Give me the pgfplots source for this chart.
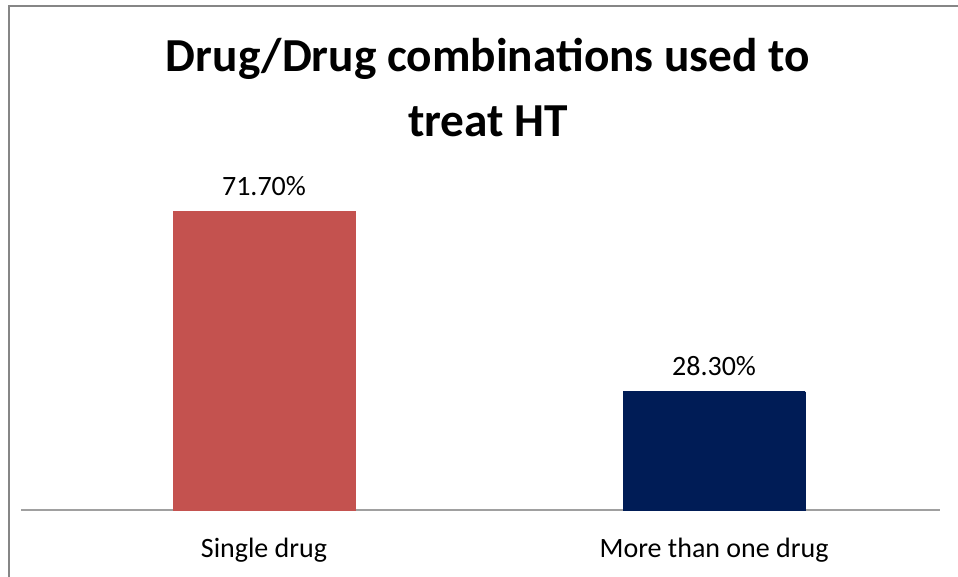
\documentclass[border=0pt]{standalone}
\usepackage{pgfplots}
\pgfplotsset{compat=1.18}
\usepackage{fontspec}
\setmainfont{Carlito}

\definecolor{framegray}{RGB}{134,134,134}
\definecolor{axisgray}{RGB}{160,160,160}
\definecolor{barred}{RGB}{212,96,93}
\definecolor{barredd}{RGB}{196,82,79}
\definecolor{barblue}{RGB}{5,38,104}
\definecolor{barblued}{RGB}{0,28,86}

\begin{document}
\begin{tikzpicture}
% page is 958 x 577 px at 0.75pt per px
\useasboundingbox (0,0) rectangle (718.5pt,432.75pt);
\draw[framegray,line width=1.5pt] (6.4pt,0) -- (6.4pt,428.6pt) -- (718.5pt,428.6pt);

\node[anchor=base,font=\bfseries\fontsize{35.5}{42}\selectfont,inner sep=0pt] at (366pt,378.75pt)
  {Drug/Drug combinations used to};
\node[anchor=base,font=\bfseries\fontsize{35.5}{42}\selectfont,inner sep=0pt] at (366pt,330pt)
  {treat HT};

\begin{axis}[
    at={(15.75pt,50.25pt)}, anchor=south west,
    scale only axis,
    width=689.25pt, height=250.2pt,
    ybar, bar width=136.5pt, bar shift=0pt,
    xmin=-0.54, xmax=1.502,
    ymin=0, ymax=80,
    hide y axis,
    axis x line*=bottom,
    x axis line style={axisgray,line width=1.5pt,-},
    xtick={0,1},
    xticklabels={Single drug,More than one drug},
    major tick length=0pt,
    xticklabel style={font=\fontsize{21}{25}\selectfont,anchor=base,inner sep=0pt,yshift=-35.5pt},
    nodes near coords={\pgfmathprintnumber[fixed,fixed zerofill,precision=2]{\pgfplotspointmeta}\%},
    every node near coord/.append style={font=\fontsize{21}{25}\selectfont,black,anchor=base,inner sep=0pt,yshift=12pt},
    /pgf/number format/assume math mode=true,
    clip=false,
]
\addplot[draw=barredd,left color=barredd,middle color=barred,right color=barredd]
  coordinates {(0,71.7)};
\addplot[draw=barblued,left color=barblued,middle color=barblue,right color=barblued]
  coordinates {(1,28.3)};
\end{axis}
\end{tikzpicture}
\end{document}
